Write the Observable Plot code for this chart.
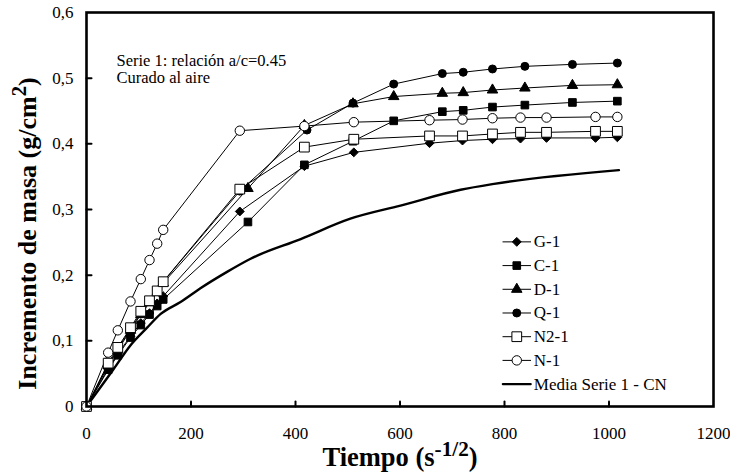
<!DOCTYPE html>
<html><head><meta charset="utf-8">
<script src="https://cdn.jsdelivr.net/npm/d3@7"></script>
<script src="https://cdn.jsdelivr.net/npm/@observablehq/plot@0.6"></script>
<style>body{margin:0;background:#fff} svg{display:block}</style>
</head><body><div id="chart"></div>
<script>
// Time values (s^-1/2)
const tB = [0,41.5,59.9,84.2,103.9,120.6,135.3,146.8,293.4,417,511.6,656.5,719.6,777,830.6,880.4,974.2,1016];
const tA = [0,41.5,59.9,84.2,103.9,120.6,135.3,146.8,309,417,510,588,681,721,777,839,930,1016];
const tQ = [0,41.5,59.9,84.2,103.9,120.6,135.3,146.8,293.4,422,510,588,681,721,777,839,930,1016];
const tMedia = [0,52,84,116,142,180,218,269,314,410,505,601,716,780,1019];
// Mass increment (g/cm2)
const G1  = [0,0.058,0.080,0.107,0.127,0.142,0.157,0.168,0.297,0.366,0.387,0.401,0.405,0.407,0.408,0.409,0.409,0.410];
const C1  = [0,0.056,0.078,0.105,0.124,0.140,0.153,0.163,0.281,0.368,0.404,0.435,0.449,0.451,0.456,0.459,0.463,0.465];
const D1  = [0,0.062,0.086,0.116,0.140,0.158,0.174,0.188,0.332,0.428,0.461,0.472,0.477,0.478,0.482,0.485,0.489,0.490];
const Q1  = [0,0.063,0.088,0.118,0.142,0.160,0.176,0.190,0.328,0.421,0.462,0.491,0.507,0.509,0.514,0.518,0.521,0.523];
const N21 = [0,0.066,0.090,0.120,0.145,0.161,0.176,0.190,0.331,0.395,0.407,0.412,0.412,0.415,0.4175,0.4175,0.419,0.419];
const N1  = [0,0.082,0.116,0.160,0.194,0.223,0.248,0.269,0.420,0.427,0.433,0.436,0.437,0.439,0.440,0.440,0.441,0.441];
const Media = [0,0.057,0.093,0.120,0.141,0.159,0.180,0.205,0.225,0.255,0.286,0.306,0.330,0.339,0.360];
// Labels
const seriesNames = ["G-1","C-1","D-1","Q-1","N2-1","N-1"];
const mediaName = "Media Serie 1 - CN";
const xTicks = [0,200,400,600,800,1000,1200];
const yTicks = [0,0.1,0.2,0.3,0.4,0.5,0.6];
const noteLines = ["Serie 1: relación a/c=0.45","Curado al aire"];

const times = [tB, tA, tA, tQ, tB, tB];
const values = [G1, C1, D1, Q1, N21, N1];
const styles = [
  {symbol:"diamond2", fill:"black", stroke:"black", r:4.0},
  {symbol:"square",   fill:"black", stroke:"black", r:4.3},
  {symbol:"triangle", fill:"black", stroke:"black", r:3.9},
  {symbol:"circle",   fill:"black", stroke:"black", r:4.0},
  {symbol:"square",   fill:"white", stroke:"black", r:5.5},
  {symbol:"circle",   fill:"white", stroke:"black", r:4.7}
];
const rows = seriesNames.map((name,i)=>times[i].map((t,j)=>({name, t, v:values[i][j]})));
const mediaRows = tMedia.map((t,j)=>({t, v:Media[j]}));

const FONT = "Liberation Serif";
const fmtY = d => d===0 ? "0" : d.toFixed(1).replace(".", ",");

// legend layout (in chart data coordinates)
const legY0 = 0.2507, legStep = 0.0361;
const legItems = seriesNames.map((name,i)=>({name, i, y: legY0 - i*legStep}));
const legMedia = {name: mediaName, y: legY0 - 6*legStep};
const tickShapeUp = {draw(ctx,l){ctx.moveTo(0,0); ctx.lineTo(0,-l);}};

const marks = [];
rows.forEach(r => marks.push(Plot.line(r, {x:"t", y:"v", stroke:"black", strokeWidth:1})));
marks.push(Plot.line(mediaRows, {x:"t", y:"v", stroke:"black", strokeWidth:2.4, curve:"monotone-x"}));
rows.forEach((r,i) => marks.push(Plot.dot(r, {x:"t", y:"v", ...styles[i], symbol:()=>styles[i].symbol, strokeWidth:1})));
legItems.forEach(d => {
  marks.push(Plot.line([{x:797,y:d.y},{x:850,y:d.y}], {x:"x", y:"y", stroke:"black", strokeWidth:1}));
  marks.push(Plot.dot([d], {x:()=>823.5, y:"y", ...styles[d.i], symbol:()=>styles[d.i].symbol, strokeWidth:1}));
});
marks.push(Plot.line([{x:797,y:legMedia.y},{x:850,y:legMedia.y}], {x:"x", y:"y", stroke:"black", strokeWidth:2.4}));
marks.push(Plot.text([...legItems, legMedia], {x:()=>856, y:"y", text:"name", textAnchor:"start", lineAnchor:"middle", fontSize:17, fill:"black"}));
marks.push(Plot.text(noteLines, {x:()=>57.4, y:(d,i)=>0.527 - i*0.0268, text:d=>d, textAnchor:"start", lineAnchor:"middle", fontSize:16.5, fill:"black"}));

const plot = Plot.plot({
  width: 730, height: 474,
  marginLeft: 86, marginRight: 17, marginTop: 12, marginBottom: 68,
  style: {fontFamily: FONT, fontSize: "17px", color: "black", background: "white", overflow: "visible"},
  x: {domain:[0,1200], label:null},
  y: {domain:[0,0.6], label:null},
  marks: [
    ...marks,
    Plot.frame({stroke:"black", strokeWidth:2.6}),
    Plot.vector(xTicks.slice(1,-1), {x:d=>d, y:()=>0, length:5, rotate:0, anchor:"start", shape:tickShapeUp, stroke:"black", strokeWidth:2}),
    Plot.vector(yTicks.slice(1,-1), {x:()=>0, y:d=>d, length:5, rotate:90, anchor:"start", shape:tickShapeUp, stroke:"black", strokeWidth:2}),
    Plot.axisX({ticks:xTicks, tickSize:0, tickPadding:20, tickFormat:d=>String(d), fontSize:17}),
    Plot.axisY({ticks:yTicks, tickSize:0, tickPadding:13, tickFormat:fmtY, fontSize:17}),
    Plot.text(["Tiempo"], {frameAnchor:"bottom", dy:51, text:d=>d, fontSize:26.5, fontWeight:"bold", textAnchor:"middle", lineAnchor:"middle", className:"xtitle"}),
    Plot.text(["Incremento"], {frameAnchor:"left", dx:-59, dy:24, rotate:-90, text:d=>d, fontSize:26, fontWeight:"bold", textAnchor:"middle", lineAnchor:"middle", className:"ytitle"})
  ]
});
document.getElementById("chart").appendChild(plot);

function setRich(el, parts){
  el.textContent = "";
  parts.forEach(p=>{
    const ts = document.createElementNS("http://www.w3.org/2000/svg","tspan");
    ts.textContent = p.text;
    if (p.sup) { ts.setAttribute("dy","-0.45em"); ts.setAttribute("font-size","0.8em"); }
    if (p.after) { ts.setAttribute("dy","0.36em"); }
    el.appendChild(ts);
  });
}
setRich(plot.querySelector(".xtitle text"), [{text:"Tiempo (s"},{text:"-1/2", sup:true},{text:")", after:true}]);
setRich(plot.querySelector(".ytitle text"), [{text:"Incremento de masa (g/cm"},{text:"2", sup:true},{text:")", after:true}]);
</script>
</body></html>
